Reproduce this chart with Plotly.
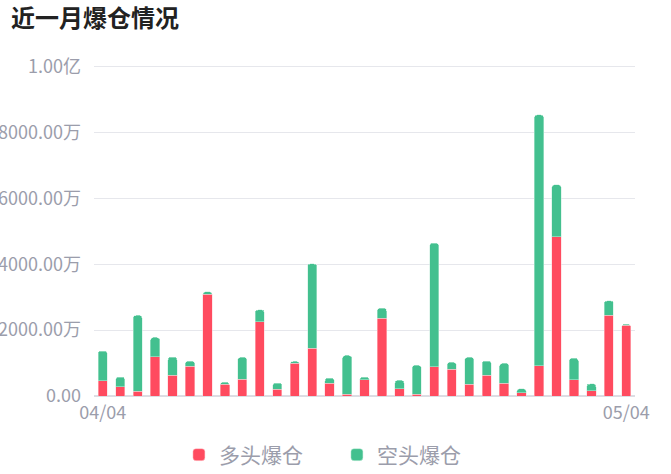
import plotly.graph_objects as go

# dates, one bar per day
dates = ["04/%02d" % d for d in range(4, 31)] + ["05/01", "05/02", "05/03", "05/04"]

# liquidations in 万
long_liq = [464, 283, 142, 1192, 626, 899, 3081, 354, 505, 2253, 202, 990, 1444, 384, 50,
            495, 2364, 222, 50, 889, 808, 354, 626, 384, 101, 919, 4828, 495, 152, 2445, 2152]
total_liq = [1364, 576, 2445, 1778, 1182, 1061, 3162, 424, 1172, 2616, 394, 1051, 4010, 545, 1232,
             576, 2667, 475, 929, 4636, 1020, 1172, 1061, 990, 222, 8536, 6414, 1142, 374, 2889, 2182]
short_liq = [t - l for t, l in zip(total_liq, long_liq)]

y_ticks = [0, 2000, 4000, 6000, 8000, 10000]
y_labels = ["0.00", "2000.00万", "4000.00万", "6000.00万", "8000.00万", "1.00亿"]

RED = "#ff4b5f"
GREEN = "#43c08f"
GREY = "#9b9dab"
GRID = "#e6e7ec"
FONT = "Noto Sans CJK SC"

fig = go.Figure()
fig.add_trace(go.Bar(x=dates, y=long_liq, name="多头爆仓", marker_color=RED,
                     marker_line=dict(color="#ffd0d5", width=0.5)))
fig.add_trace(go.Bar(x=dates, y=short_liq, name="空头爆仓", marker_color=GREEN,
                     marker_line=dict(color="#c8eedd", width=0.5)))

fig.update_layout(
    width=671, height=474,
    barmode="stack", bargap=0.47, barcornerradius=3,
    paper_bgcolor="white", plot_bgcolor="white",
    margin=dict(l=94, r=36, t=66, b=78),
    font=dict(family=FONT, color=GREY),
    title=dict(text="<b>近一月爆仓情况</b>", x=11 / 671, xanchor="left", xref="container",
               y=1 - 19 / 474, yanchor="middle", yref="container",
               font=dict(size=24, color="#222222", family=FONT)),
    showlegend=True,
    legend=dict(orientation="h", traceorder="normal", x=0.157, xanchor="left",
                y=1 - 455 / 474, yref="container", yanchor="middle",
                font=dict(size=21, color=GREY), entrywidth=113, itemclick=False),
    # top gridline (plotly drops the one sitting on the plot edge)
    shapes=[dict(type="line", xref="paper", x0=0, x1=1, yref="y", y0=y_ticks[-1], y1=y_ticks[-1],
                 line=dict(color=GRID, width=1), layer="below")],
)
fig.update_xaxes(type="category", tickvals=[dates[0], dates[-1]], ticktext=[dates[0], dates[-1]],
                 showgrid=False, showline=False, ticks="", tickfont=dict(size=18, color=GREY),
                 ticklabelstandoff=4, automargin=False)
fig.update_yaxes(range=[0, 10015], tickvals=y_ticks, ticktext=y_labels, showgrid=True,
                 gridcolor=GRID, gridwidth=1, zeroline=True, zerolinecolor="#dcdde3",
                 showline=False, ticks="", ticklabelstandoff=12, tickfont=dict(size=18, color=GREY),
                 automargin=False)

# drop the page margin so the chart sits at the window's top-left corner
fig.write_html("out.html", config={"displayModeBar": False},
               post_script="document.body.style.margin='0';")
